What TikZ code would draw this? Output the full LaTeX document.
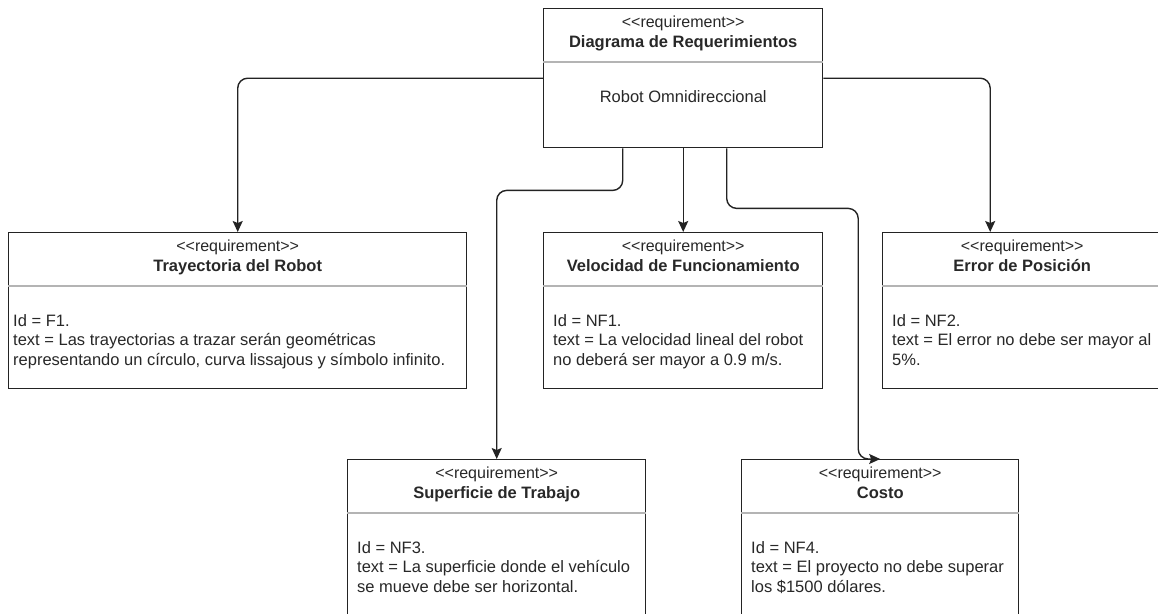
\documentclass[tikz,border=0pt]{standalone}
\usepackage{fontspec}
\setmainfont{Liberation Sans}
\usepackage{tikz}
\usetikzlibrary{arrows.meta, positioning}
\definecolor{linegray}{RGB}{35, 35, 35}
\definecolor{sepgray}{RGB}{180, 180, 180}
\definecolor{textgray}{RGB}{40, 40, 40}

\begin{document}
\begin{tikzpicture}[
    x=1pt, y=1pt,
    reqbox/.style={rectangle, draw=linegray, line width=1.4pt, fill=white, anchor=north west, minimum height=156pt, inner sep=0pt},
    stereo/.style={font=\fontsize{16}{19}\selectfont, text=textgray, anchor=base, inner sep=0pt},
    reqtitle/.style={font=\fontsize{16.5}{19}\selectfont\bfseries, text=textgray, anchor=base, inner sep=0pt},
    reqtext/.style={font=\fontsize{16.5}{19.5}\selectfont, text=textgray, align=left, anchor=north west, inner sep=0pt},
    divider/.style={draw=sepgray, line width=1.2pt},
    arrow/.style={-{Stealth[length=11pt, width=10pt, inset=2pt]}, line width=1.4pt, draw=linegray, rounded corners=10pt}
]
    \useasboundingbox (0,0) rectangle (1158,-613);
    \clip (0,0) rectangle (1158,-613);

    % Main requirement
    \node[reqbox, minimum width=279pt, minimum height=139pt] (diagrama) at (543,-8) {};
    \node[stereo] (diagrama-st) at ([yshift=-19.5pt]diagrama.north) {<\kern0pt<requirement>\kern0pt>};
    \node[reqtitle] (diagrama-ti) at ([yshift=-39.5pt]diagrama.north) {Diagrama de Requerimientos};
    \draw[divider] ([yshift=-54pt]diagrama.north west) -- ([yshift=-54pt]diagrama.north east);
    \node[stereo, font=\fontsize{16.5}{19}\selectfont] (diagrama-tx) at ([yshift=-94pt]diagrama.north) {Robot Omnidireccional};

    % Requirements, first row
    \node[reqbox, minimum width=458pt] (trayectoria) at (8,-232) {};
    \node[stereo] (trayectoria-st) at ([yshift=-19.5pt]trayectoria.north) {<\kern0pt<requirement>\kern0pt>};
    \node[reqtitle] (trayectoria-ti) at ([yshift=-39.5pt]trayectoria.north) {Trayectoria del Robot};
    \draw[divider] ([yshift=-54pt]trayectoria.north west) -- ([yshift=-54pt]trayectoria.north east);
    \node[reqtext] (trayectoria-tx) at ([xshift=5pt, yshift=-82pt]trayectoria.north west) {Id = F1.\\text = Las trayectorias a trazar serán geométricas\\representando un círculo, curva lissajous y símbolo infinito.};

    \node[reqbox, minimum width=279pt] (velocidad) at (543,-232) {};
    \node[stereo] (velocidad-st) at ([yshift=-19.5pt]velocidad.north) {<\kern0pt<requirement>\kern0pt>};
    \node[reqtitle] (velocidad-ti) at ([yshift=-39.5pt]velocidad.north) {Velocidad de Funcionamiento};
    \draw[divider] ([yshift=-54pt]velocidad.north west) -- ([yshift=-54pt]velocidad.north east);
    \node[reqtext] (velocidad-tx) at ([xshift=10pt, yshift=-82pt]velocidad.north west) {Id = NF1.\\text = La velocidad lineal del robot\\no deberá ser mayor a 0.9 m/s.};

    \node[reqbox, minimum width=279pt] (error) at (882,-232) {};
    \node[stereo] (error-st) at ([yshift=-19.5pt]error.north) {<\kern0pt<requirement>\kern0pt>};
    \node[reqtitle] (error-ti) at ([yshift=-39.5pt]error.north) {Error de Posición};
    \draw[divider] ([yshift=-54pt]error.north west) -- ([yshift=-54pt]error.north east);
    \node[reqtext] (error-tx) at ([xshift=10pt, yshift=-82pt]error.north west) {Id = NF2.\\text = El error no debe ser mayor al\\5\%.};

    % Requirements, second row
    \node[reqbox, minimum width=298pt] (superficie) at (347,-459) {};
    \node[stereo] (superficie-st) at ([yshift=-19.5pt]superficie.north) {<\kern0pt<requirement>\kern0pt>};
    \node[reqtitle] (superficie-ti) at ([yshift=-39.5pt]superficie.north) {Superficie de Trabajo};
    \draw[divider] ([yshift=-54pt]superficie.north west) -- ([yshift=-54pt]superficie.north east);
    \node[reqtext] (superficie-tx) at ([xshift=10pt, yshift=-82pt]superficie.north west) {Id = NF3.\\text = La superficie donde el vehículo\\se mueve debe ser horizontal.};

    \node[reqbox, minimum width=277pt] (costo) at (741,-459) {};
    \node[stereo] (costo-st) at ([yshift=-19.5pt]costo.north) {<\kern0pt<requirement>\kern0pt>};
    \node[reqtitle] (costo-ti) at ([yshift=-39.5pt]costo.north) {Costo};
    \draw[divider] ([yshift=-54pt]costo.north west) -- ([yshift=-54pt]costo.north east);
    \node[reqtext] (costo-tx) at ([xshift=10pt, yshift=-82pt]costo.north west) {Id = NF4.\\text = El proyecto no debe superar\\los \$1500 dólares.};

    % Connectors
    \draw[arrow] (diagrama.west) -| (trayectoria.north);
    \draw[arrow] (diagrama.south) -- (velocidad.north);
    \draw[arrow] (diagrama.east) -| ([xshift=-32pt]error.north);
    \draw[arrow] ([xshift=-60.5pt]diagrama.south) -- ++(0,-42) -| (superficie.north);
    \draw[arrow] ([xshift=43.5pt]diagrama.south) -- ++(0,-60) -| ([xshift=-22pt]costo.north) -- (costo.north);
\end{tikzpicture}
\end{document}
